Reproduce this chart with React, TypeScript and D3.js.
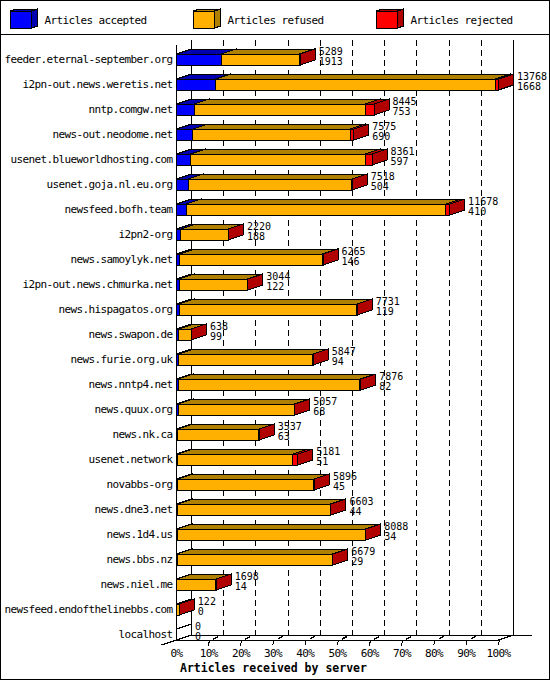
import React, { useEffect, useRef } from "react";
import * as d3 from "d3";

const servers = [
  "feeder.eternal-september.org",
  "i2pn-out.news.weretis.net",
  "nntp.comgw.net",
  "news-out.neodome.net",
  "usenet.blueworldhosting.com",
  "usenet.goja.nl.eu.org",
  "newsfeed.bofh.team",
  "i2pn2-org",
  "news.samoylyk.net",
  "i2pn-out.news.chmurka.net",
  "news.hispagatos.org",
  "news.swapon.de",
  "news.furie.org.uk",
  "news.nntp4.net",
  "news.quux.org",
  "news.nk.ca",
  "usenet.network",
  "novabbs-org",
  "news.dne3.net",
  "news.1d4.us",
  "news.bbs.nz",
  "news.niel.me",
  "newsfeed.endofthelinebbs.com",
  "localhost",
];

// total articles received (upper number next to each bar)
const totals = [
  5289, 13768, 8445, 7575, 8361, 7518, 11678, 2220, 6265, 3044, 7731, 638,
  5847, 7876, 5057, 3537, 5181, 5896, 6603, 8088, 6679, 1698, 122, 0,
];

// articles accepted (lower number)
const accepted = [
  1913, 1668, 753, 690, 597, 504, 410, 188, 146, 122, 119, 99, 94, 82, 68, 63,
  51, 45, 44, 34, 29, 14, 0, 0,
];

// articles rejected, estimated from the width of the red part
const rejected = [
  40, 140, 385, 140, 285, 15, 170, 10, 20, 10, 20, 5, 15, 30, 15, 10, 215, 20,
  30, 20, 20, 10, 0, 0,
];

const seriesNames = ["Articles accepted", "Articles refused", "Articles rejected"];
const percentTicks = [0, 10, 20, 30, 40, 50, 60, 70, 80, 90, 100];
const axisTitle = "Articles received by server";

const frontColors = ["#0000ff", "#ffb000", "#ff0000"];
const shadeColors = ["#0000b0", "#b08000", "#b00000"];

const width = 550;
const height = 680;
const plot = { left: 176.5, right: 498.5, top: 40, bottom: 640 };
const depth = { x: 15, y: -5 };
const barH = 11;
const font = "'DejaVu Sans Mono', monospace";

type Pt = [number, number];

export default function App() {
  const ref = useRef<SVGSVGElement>(null);

  useEffect(() => {
    const svg = d3.select(ref.current);
    svg.selectAll("*").remove();

    const poly = (g: any, pts: Pt[], fill: string) =>
      g
        .append("polygon")
        .attr("points", pts.map((p) => p.join(",")).join(" "))
        .attr("fill", fill)
        .attr("stroke", "#000")
        .attr("stroke-width", 1);

    const line = (g: any, x1: number, y1: number, x2: number, y2: number, dash?: string) =>
      g
        .append("line")
        .attr("x1", x1)
        .attr("y1", y1)
        .attr("x2", x2)
        .attr("y2", y2)
        .attr("stroke", "#000")
        .attr("stroke-width", 1)
        .attr("stroke-dasharray", dash || null);

    const root = svg.append("g").attr("shape-rendering", "crispEdges");

    // frame + legend separator
    root
      .append("rect")
      .attr("x", 0.5)
      .attr("y", 0.5)
      .attr("width", width - 1)
      .attr("height", height - 1)
      .attr("fill", "#fff")
      .attr("stroke", "#000");
    line(root, 0, 34.5, width, 34.5);

    const labels = svg
      .append("g")
      .attr("font-family", font)
      .attr("font-size", 11)
      .attr("letter-spacing", -0.62);

    // legend
    seriesNames.forEach((name, k) => {
      const bx = 10.5 + k * 183;
      poly(root, [[bx, 11], [bx + 21, 11], [bx + 21, 28], [bx, 28]], frontColors[k]);
      poly(root, [[bx, 11], [bx + 21, 11], [bx + 27, 9], [bx + 6, 9]], shadeColors[k]);
      poly(root, [[bx + 21, 11], [bx + 27, 9], [bx + 27, 26], [bx + 21, 28]], shadeColors[k]);
      labels
        .append("text")
        .attr("x", bx + 34)
        .attr("y", 24)
        .text(name);
    });

    const maxTotal = d3.max(totals) as number;
    const x = d3.scaleLinear().domain([0, maxTotal]).range([plot.left, plot.right]);
    const pct = d3.scaleLinear().domain([0, 100]).range([plot.left, plot.right]);
    const y = d3.scaleBand().domain(servers).range([plot.top, plot.bottom]).padding(0);

    const backTop = plot.top;
    const backBottom = plot.bottom + depth.y;

    // back wall
    percentTicks.forEach((p) => {
      const bx = pct(p) + depth.x;
      const solid = p === 0 || p === 100;
      line(root, bx, backTop, bx, backBottom, solid ? undefined : "6,4");
    });

    // floor
    line(root, pct(0) + depth.x, backBottom, 532, backBottom);
    line(root, pct(0), plot.bottom, pct(100), plot.bottom);
    line(root, pct(0) - depth.x, plot.bottom - depth.y, pct(0) + depth.x, backBottom);
    line(root, pct(100), plot.bottom, pct(100) + depth.x, backBottom);

    // front left axis
    line(root, pct(0), backTop - depth.y, pct(0), plot.bottom);

    // ticks
    percentTicks.slice(1).forEach((p) => {
      const tx = pct(p);
      line(root, tx + 1, plot.bottom, tx - 0.5, plot.bottom + 5.5);
      if (p < 100) {
        poly(root, [[tx + 5, 638.5], [tx + 9, 636.5], [tx + 9, 637], [tx + 5, 639]], "#000");
      }
    });

    // tick labels
    percentTicks.forEach((p) => {
      labels
        .append("text")
        .attr("x", pct(p))
        .attr("y", 657)
        .attr("text-anchor", "middle")
        .text(`${p}%`);
    });

    svg
      .append("text")
      .attr("x", 180)
      .attr("y", 671.5)
      .attr("font-family", font)
      .attr("font-size", 11.5)
      .attr("font-weight", "bold")
      .text(axisTitle);

    // value labels sit closer together, so keep them a bit smaller
    const values = svg.append("g").attr("font-family", font).attr("font-size", 10);

    // bars
    const bars = root.append("g");
    servers.forEach((s, i) => {
      const yb = (y(s) as number) + y.bandwidth();
      const yt = yb - barH;
      const refused = totals[i] - accepted[i] - rejected[i];
      const vals = [accepted[i], refused, rejected[i]];
      let cum = 0;
      vals.forEach((v, k) => {
        if (v <= 0) return;
        const xa = x(cum);
        const xb = x(cum + v);
        poly(bars, [[xa, yt], [xb, yt], [xb, yb], [xa, yb]], frontColors[k]);
        poly(
          bars,
          [[xa, yt], [xb, yt], [xb + depth.x, yt + depth.y], [xa + depth.x, yt + depth.y]],
          shadeColors[k]
        );
        poly(
          bars,
          [[xb, yt], [xb + depth.x, yt + depth.y], [xb + depth.x, yb + depth.y], [xb, yb]],
          shadeColors[k]
        );
        cum += v;
      });
      if (totals[i] > 0) {
        const xe = x(totals[i]);
        poly(
          bars,
          [[xe, yt], [xe + depth.x, yt + depth.y], [xe + depth.x, yb + depth.y], [xe, yb]],
          shadeColors[2]
        );
      } else {
        line(bars, x(0), yt, x(0) + depth.x, yt + depth.y);
      }

      // server name
      labels
        .append("text")
        .attr("x", 172.5)
        .attr("y", yb - 2.5)
        .attr("text-anchor", "end")
        .text(s);

      // total / accepted
      const lx = x(totals[i]) + depth.x + 3.5;
      values.append("text").attr("x", lx).attr("y", yb - 10.5).text(totals[i]);
      values.append("text").attr("x", lx).attr("y", yb).text(accepted[i]);
    });

    labels.raise();
    values.raise();
  }, []);

  return (
    <svg
      ref={ref}
      width={width}
      height={height}
      style={{ position: "absolute", left: 0, top: 0, background: "#fff" }}
    />
  );
}
